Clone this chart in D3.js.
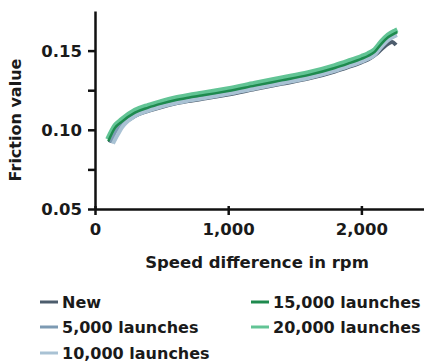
<!DOCTYPE html>
<html><head><meta charset="utf-8">
<script src="https://cdn.jsdelivr.net/npm/d3@7"></script>
<style>
body{margin:0;background:#fff;}
text{font-family:"DejaVu Sans",sans-serif;font-weight:bold;fill:#1a1a1a;}
</style></head>
<body><svg id="c" width="424" height="362"></svg>
<script>
const seriesNames = ["New","5,000 launches","10,000 launches","15,000 launches","20,000 launches"];
const seriesColors = ["#4d5d6d","#7d9ab3","#a9c2d4","#1e8a4e","#62c495"];
const rpmNew   = [110,150,200,300,400,500,600,700,800,900,1000,1200,1400,1600,1800,1900,2000,2050,2100,2150,2200,2230,2260];
const valNew   = [0.0920,0.0992,0.1030,0.1088,0.1119,0.1144,0.1165,0.1181,0.1195,0.1208,0.1223,0.1257,0.1290,0.1323,0.1368,0.1396,0.1426,0.1444,0.1471,0.1508,0.1543,0.1555,0.1535];
const rpm5k    = [120,150,200,300,400,500,600,700,800,900,1000,1200,1400,1600,1800,1900,2000,2050,2100,2150,2200,2250,2265];
const val5k    = [0.0918,0.0985,0.1026,0.1090,0.1123,0.1149,0.1170,0.1186,0.1200,0.1214,0.1229,0.1263,0.1296,0.1329,0.1374,0.1402,0.1432,0.1450,0.1476,0.1526,0.1568,0.1594,0.1600];
const rpm10k   = [135,170,200,300,400,500,600,700,800,900,1000,1200,1400,1600,1800,1900,2000,2050,2100,2150,2200,2250,2265];
const val10k   = [0.0913,0.0968,0.1012,0.1086,0.1121,0.1147,0.1168,0.1184,0.1198,0.1212,0.1227,0.1261,0.1294,0.1327,0.1372,0.1400,0.1430,0.1448,0.1474,0.1524,0.1566,0.1592,0.1598];
const rpm15k   = [100,150,200,300,400,500,600,700,800,900,1000,1200,1400,1600,1800,1900,2000,2050,2100,2150,2200,2250,2270];
const val15k   = [0.0928,0.1012,0.1050,0.1108,0.1140,0.1165,0.1186,0.1202,0.1216,0.1230,0.1245,0.1279,0.1312,0.1345,0.1390,0.1418,0.1448,0.1466,0.1492,0.1543,0.1584,0.1609,0.1617];
const rpm20k   = [95,150,200,300,400,500,600,700,800,900,1000,1200,1400,1600,1800,1900,2000,2050,2100,2150,2200,2250,2270];
const val20k   = [0.0940,0.1027,0.1065,0.1123,0.1155,0.1180,0.1201,0.1217,0.1231,0.1245,0.1260,0.1294,0.1327,0.1360,0.1405,0.1433,0.1463,0.1481,0.1507,0.1557,0.1598,0.1623,0.1631];
const xTicks = [0,1000,2000];
const xTickLabels = ["0","1,000","2,000"];
const yTicks = [0.05,0.10,0.15];
const yTickLabels = ["0.05","0.10","0.15"];
const yMinorTicks = [0.075,0.125];

const svg = d3.select("#c");
const x = d3.scaleLinear().domain([0,2470]).range([95,424]);
const y = d3.scaleLinear().domain([0.05,0.175]).range([209,11]);

const series = [
  {name:seriesNames[0], color:seriesColors[0], xs:rpmNew, ys:valNew, w:4},
  {name:seriesNames[1], color:seriesColors[1], xs:rpm5k, ys:val5k, w:4},
  {name:seriesNames[2], color:seriesColors[2], xs:rpm10k, ys:val10k, w:4},
  {name:seriesNames[4], color:seriesColors[4], xs:rpm20k, ys:val20k, w:5},
  {name:seriesNames[3], color:seriesColors[3], xs:rpm15k, ys:val15k, w:2.5}
];
const line = d3.line().x(d=>x(d[0])).y(d=>y(d[1])).curve(d3.curveMonotoneX);
series.forEach(s=>{
  svg.append("path").datum(s.xs.map((v,i)=>[v,s.ys[i]]))
    .attr("d",line).attr("fill","none").attr("stroke",s.color)
    .attr("stroke-width", s.w)
    .attr("stroke-linejoin","round").attr("stroke-linecap","butt");
});

// axes
const gx = svg.append("g").attr("transform","translate(0,209)")
  .call(d3.axisBottom(x).tickValues(xTicks).tickFormat((d,i)=>xTickLabels[i]).tickSize(6).tickSizeOuter(0).tickPadding(4));
const gy = svg.append("g").attr("transform","translate(95,0)")
  .call(d3.axisLeft(y).tickValues(yTicks).tickFormat((d,i)=>yTickLabels[i]).tickSize(7).tickSizeOuter(0).tickPadding(5));
svg.append("g").attr("transform","translate(95,0)")
  .call(d3.axisLeft(y).tickValues(yMinorTicks).tickFormat("").tickSize(7).tickSizeOuter(0))
  .select(".domain").remove();
svg.selectAll(".domain").attr("stroke","#111").attr("stroke-width",2.5);
svg.selectAll(".tick line").attr("stroke","#111").attr("stroke-width",2.5);
gx.selectAll(".tick line").attr("y1",-3);
gy.selectAll(".tick text").style("font-size","16.5px").attr("x",-13).attr("dy","0.36em");
gx.selectAll(".tick text").style("font-size","16.5px").attr("y",26).attr("dy","0");
svg.selectAll(".tick text").attr("fill","#1a1a1a").style("font-family","'DejaVu Sans',sans-serif").style("font-weight","bold");

svg.append("text").attr("transform","translate(21,120) rotate(-90)").attr("text-anchor","middle")
  .style("font-size","16px").text("Friction value");
svg.append("text").attr("x",257).attr("y",268).attr("text-anchor","middle")
  .style("font-size","16.5px").text("Speed difference in rpm");

// legend
const legendPos = [[40,302],[40,327],[40,353],[251,302],[251,327]];
seriesNames.forEach((n,i)=>{
  const [lx,ly] = legendPos[i];
  svg.append("line").attr("x1",lx).attr("x2",lx+18).attr("y1",ly).attr("y2",ly)
    .attr("stroke",seriesColors[i]).attr("stroke-width",3);
  svg.append("text").attr("x",lx+22).attr("y",ly+6).style("font-size","16px").text(n);
});
</script></body></html>
